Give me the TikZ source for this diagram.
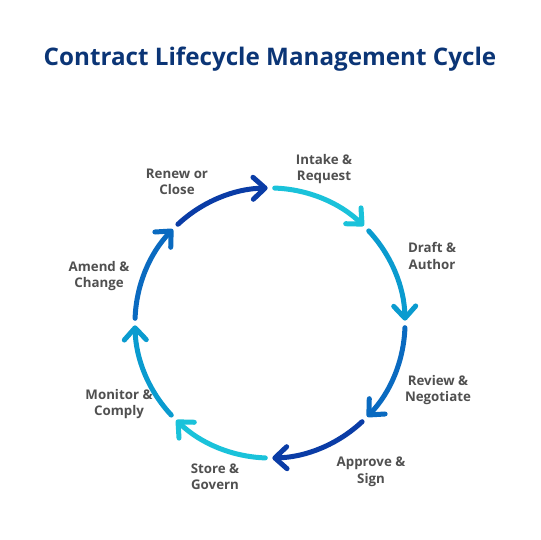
\documentclass[tikz,border=0pt]{standalone}
\usepackage{fontspec}
\setmainfont{Open Sans}
\usetikzlibrary{arrows.meta}
\definecolor{cA}{HTML}{1AC2DA}
\definecolor{cB}{HTML}{0A9BCF}
\definecolor{cC}{HTML}{0A6AC0}
\definecolor{cD}{HTML}{0A3CA6}
\definecolor{txt}{HTML}{505050}
\definecolor{ttl}{HTML}{0B3576}
\tikzset{
  arcarrow/.style={line width=5pt, line cap=round,
    -{Straight Barb[length=12pt,width=22pt,round]}},
  lbl/.style={font=\fontsize{13.3}{16.5}\selectfont\bfseries, text=txt, align=center, inner sep=0pt},
}
\begin{document}
\begin{tikzpicture}[x=1pt,y=1pt]
\useasboundingbox (0,0) rectangle (540,540);
\fill[white] (0,0) rectangle (540,540);
\node[font=\fontsize{24.2}{28}\selectfont\bfseries, text=ttl, anchor=base] (title) at (270,474) {Contract Lifecycle Management Cycle};
\coordinate (C) at (270,217);
\def\R{135pt}
\foreach \s/\col in {88/cA, 43/cB, -2/cC, -47/cD, -92/cA, -137/cB, -182/cC, -227/cD}{
  \draw[arcarrow, \col] (C) ++(\s:135) arc[start angle=\s, end angle=\s-42, radius=\R];
}
\node[lbl] (intake) at (324,371) {Intake \&\\Request};
\node[lbl] (draft) at (432,284) {Draft \&\\Author};
\node[lbl] (review) at (438,150) {Review \&\\Negotiate};
\node[lbl] (approve) at (371,68) {Approve \&\\Sign};
\node[lbl] (store) at (215,63) {Store \&\\Govern};
\node[lbl] (monitor) at (119,136) {Monitor \&\\Comply};
\node[lbl] (amend) at (99,264) {Amend \&\\Change};
\node[lbl] (renew) at (177,358) {Renew or\\Close};
\end{tikzpicture}
\end{document}
